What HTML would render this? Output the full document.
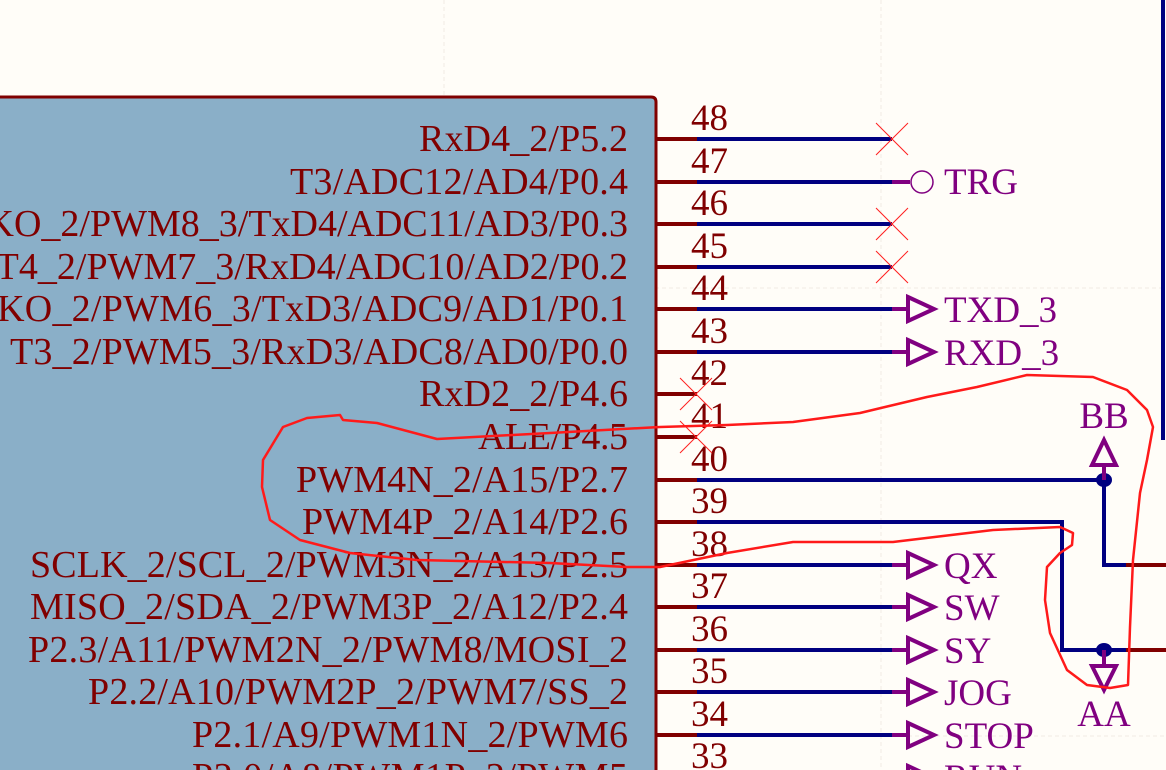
<!DOCTYPE html>
<html><head><meta charset="utf-8"><style>
html,body{margin:0;padding:0;background:#fffdf8;}
svg{display:block}
text{font-family:"Liberation Serif",serif;}
</style></head><body>
<svg width="1166" height="770" viewBox="0 0 1166 770" xmlns="http://www.w3.org/2000/svg">
<rect x="0" y="0" width="1166" height="770" fill="#fffdf8"/>
<g stroke="#f0ece4" stroke-width="1" stroke-dasharray="4,3" fill="none">
<line x1="444" y1="0" x2="444" y2="96"/>
<line x1="881" y1="0" x2="881" y2="770"/>
<line x1="620" y1="288" x2="1166" y2="288"/>
<line x1="880" y1="736" x2="1166" y2="736"/>
</g>
<path d="M-10 97 H651 Q656 97 656 102 V780 H-10 Z" fill="#8aafc8" stroke="#800000" stroke-width="3"/>
<g font-size="38" fill="#800000" text-anchor="end">
<text x="628" y="151" textLength="209">RxD4_2/P5.2</text>
<text x="628" y="194" textLength="338">T3/ADC12/AD4/P0.4</text>
<text x="628" y="236">KO_2/PWM8_3/TxD4/ADC11/AD3/P0.3</text>
<text x="628" y="279">T4_2/PWM7_3/RxD4/ADC10/AD2/P0.2</text>
<text x="628" y="321" textLength="680">CLKO_2/PWM6_3/TxD3/ADC9/AD1/P0.1</text>
<text x="628" y="364" textLength="618">T3_2/PWM5_3/RxD3/ADC8/AD0/P0.0</text>
<text x="628" y="406" textLength="209">RxD2_2/P4.6</text>
<text x="628" y="449" textLength="150">ALE/P4.5</text>
<text x="628" y="492" textLength="332">PWM4N_2/A15/P2.7</text>
<text x="628" y="534" textLength="326">PWM4P_2/A14/P2.6</text>
<text x="628" y="577" textLength="598">SCLK_2/SCL_2/PWM3N_2/A13/P2.5</text>
<text x="628" y="619" textLength="598">MISO_2/SDA_2/PWM3P_2/A12/P2.4</text>
<text x="628" y="662" textLength="600">P2.3/A11/PWM2N_2/PWM8/MOSI_2</text>
<text x="628" y="704" textLength="540">P2.2/A10/PWM2P_2/PWM7/SS_2</text>
<text x="628" y="747" textLength="436">P2.1/A9/PWM1N_2/PWM6</text>
<text x="628" y="789" textLength="436">P2.0/A8/PWM1P_2/PWM5</text>
</g>
<g stroke="#800000" stroke-width="4">
<line x1="656" y1="139" x2="697" y2="139"/><line x1="656" y1="182" x2="697" y2="182"/>
<line x1="656" y1="224" x2="697" y2="224"/><line x1="656" y1="267" x2="697" y2="267"/>
<line x1="656" y1="309" x2="697" y2="309"/><line x1="656" y1="352" x2="697" y2="352"/>
<line x1="656" y1="394" x2="697" y2="394"/><line x1="656" y1="437" x2="697" y2="437"/>
<line x1="656" y1="480" x2="697" y2="480"/><line x1="656" y1="522" x2="697" y2="522"/>
<line x1="656" y1="565" x2="697" y2="565"/><line x1="656" y1="607" x2="697" y2="607"/>
<line x1="656" y1="650" x2="697" y2="650"/><line x1="656" y1="692" x2="697" y2="692"/>
<line x1="656" y1="735" x2="697" y2="735"/>
<line x1="1126" y1="565" x2="1166" y2="565"/><line x1="1126" y1="650" x2="1166" y2="650"/>
</g>
<g font-size="37" fill="#800000">
<text x="691" y="130">48</text><text x="691" y="173">47</text><text x="691" y="215">46</text>
<text x="691" y="258">45</text><text x="691" y="300">44</text><text x="691" y="343">43</text>
<text x="691" y="385">42</text><text x="691" y="428">41</text><text x="691" y="471">40</text>
<text x="691" y="513">39</text><text x="691" y="556">38</text><text x="691" y="598">37</text>
<text x="691" y="641">36</text><text x="691" y="683">35</text><text x="691" y="726">34</text>
<text x="691" y="768">33</text>
</g>
<g stroke="#000080" stroke-width="4" fill="none">
<line x1="697" y1="139" x2="892" y2="139"/><line x1="697" y1="182" x2="892" y2="182"/>
<line x1="697" y1="224" x2="892" y2="224"/><line x1="697" y1="267" x2="892" y2="267"/>
<line x1="697" y1="309" x2="892" y2="309"/><line x1="697" y1="352" x2="892" y2="352"/>
<line x1="697" y1="565" x2="892" y2="565"/><line x1="697" y1="607" x2="892" y2="607"/>
<line x1="697" y1="650" x2="892" y2="650"/><line x1="697" y1="692" x2="892" y2="692"/>
<line x1="697" y1="735" x2="892" y2="735"/>
<polyline points="697,480 1104,480 1104,565 1126,565"/>
<polyline points="697,522 1062,522 1062,650 1126,650"/>
<line x1="1163" y1="0" x2="1163" y2="440" stroke-width="4"/>
</g>
<g fill="#000080"><ellipse cx="1104" cy="480" rx="8" ry="7"/><ellipse cx="1104" cy="650" rx="8" ry="7"/></g>
<g stroke="#ff2020" stroke-width="1">
<path d="M876 123 L908 155 M908 123 L876 155"/>
<path d="M876 208 L908 240 M908 208 L876 240"/>
<path d="M876 251 L908 283 M908 251 L876 283"/>
<path d="M680 378 L712 410 M712 378 L680 410"/>
<path d="M680 421 L712 453 M712 421 L680 453"/>
</g>
<g stroke="#800080" stroke-width="4" fill="none">
<line x1="892" y1="182" x2="910" y2="182"/>
<circle cx="922" cy="182" r="11" stroke-width="1.5"/>
<path d="M892 309 H907 M908 297 L934 309 L908 321 Z"/>
<path d="M892 352 H907 M908 340 L934 352 L908 364 Z"/>
<path d="M892 565 H907 M908 553 L934 565 L908 577 Z"/>
<path d="M892 607 H907 M908 595 L934 607 L908 619 Z"/>
<path d="M892 650 H907 M908 638 L934 650 L908 662 Z"/>
<path d="M892 692 H907 M908 680 L934 692 L908 704 Z"/>
<path d="M892 735 H907 M908 723 L934 735 L908 747 Z"/>
<path d="M908 766 L934 778 L908 790 Z"/>
<path d="M1104 480 V466 M1092 465 L1104 440 L1116 465 Z"/>
<path d="M1104 650 V665 M1092 666 L1104 690 L1116 666 Z"/>
</g>
<g font-size="37" fill="#800080">
<text x="944" y="194">TRG</text>
<text x="944" y="322">TXD_3</text>
<text x="944" y="365">RXD_3</text>
<text x="944" y="578">QX</text>
<text x="944" y="620">SW</text>
<text x="944" y="663">SY</text>
<text x="944" y="705">JOG</text>
<text x="944" y="748">STOP</text>
<text x="944" y="790">RUN</text>
<text x="1104" y="428" text-anchor="middle">BB</text>
<text x="1104" y="726" text-anchor="middle">AA</text>
</g>
<path fill="none" stroke="#ff1a1a" stroke-width="2.5" stroke-linejoin="round" d="
M660 427 L550 433 L437 439 L377 423 L343 420 L340 415 L307 418 L283 427 L263 460 L262 487 L270 520 L300 540 L350 553 L417 560 L550 563 L627 567 L660 567
L727 553 L793 542 L893 542 L993 530 L1060 527 L1073 533 L1072 545 L1060 553 L1047 567 L1045 600 L1050 633 L1067 670 L1087 685 L1110 688 L1128 685 L1130 627 L1133 560 L1140 493 L1147 460 L1153 427 L1147 410 L1127 390 L1093 377 L1027 375 L977 387 L927 397 L860 413 L793 422 L727 425 L660 427"/>
</svg>
</body></html>
